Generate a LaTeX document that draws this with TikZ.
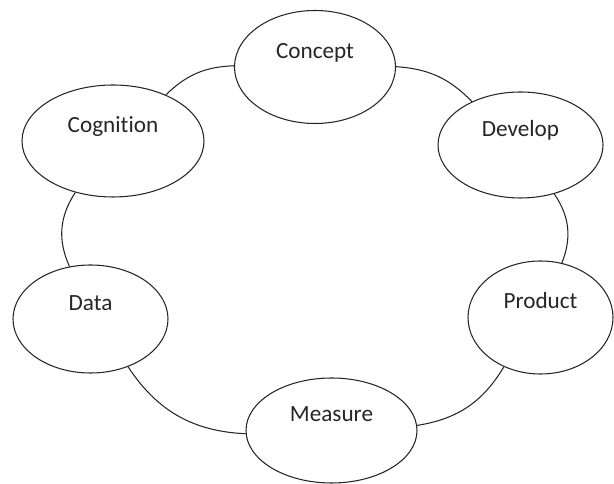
\documentclass[tikz,border=0pt]{standalone}
\usepackage{fontspec}
\setmainfont{Carlito}[Ligatures=NoCommon]
\usetikzlibrary{shapes.geometric}
\tikzset{
  stage/.style={ellipse, draw=black!85, line width=0.6pt, fill=white, inner sep=0pt,
    font=\fontsize{13.2}{16}\selectfont, text=black!85,
    text height=0.3cm, text depth=0.64cm},
  link/.style={draw=black!85, line width=0.6pt}
}
\begin{document}
\begin{tikzpicture}
\useasboundingbox (0,0) rectangle (12.28,9.68);
% the six stages round the cycle
\node[stage, minimum width=3.22cm, minimum height=2.26cm] (concept) at (6.30,8.34) {Concept};
\node[stage, minimum width=3.30cm, minimum height=2.12cm] (develop) at (10.41,6.78) {Develop};
\node[stage, minimum width=2.90cm, minimum height=2.26cm] (product) at (10.81,3.33) {Product};
\node[stage, minimum width=3.42cm, minimum height=2.10cm] (measure) at (6.63,1.07) {Measure};
\node[stage, minimum width=3.10cm, minimum height=2.16cm] (data) at (1.81,3.30) {Data};
\node[stage, minimum width=3.64cm, minimum height=2.24cm] (cognition) at (2.26,6.86) {Cognition};
% arcs between neighbours
\draw[link] (cognition) to[bend left=21] (concept);
\draw[link] (concept) to[bend left=21] (develop);
\draw[link] (develop) to[bend left=28] (product);
\draw[link] (product) to[bend left=25] (measure);
\draw[link] (measure) to[bend left=27] (data);
\draw[link] (data) to[bend left=29] (cognition);
\end{tikzpicture}
\end{document}
